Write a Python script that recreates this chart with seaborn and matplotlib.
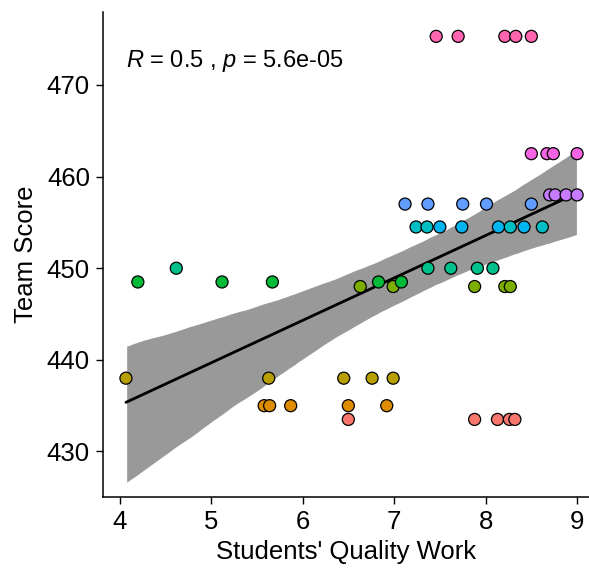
import numpy as np
import pandas as pd
import matplotlib
matplotlib.use("Agg")
import matplotlib.pyplot as plt
import seaborn as sns

# Data (one list of quality-work scores per team)
team_names = ["Team 1", "Team 2", "Team 3", "Team 4", "Team 5", "Team 6",
              "Team 7", "Team 8", "Team 9", "Team 10", "Team 11", "Team 12"]
team_scores = [433.5, 435.0, 438.0, 448.0, 448.5, 450.0,
               454.5, 454.5, 457.0, 458.0, 462.5, 475.3]
quality_work = [
    [6.50, 7.88, 8.13, 8.26, 8.32],
    [5.58, 5.64, 5.87, 6.50, 6.92],
    [4.07, 5.63, 6.45, 6.76, 6.99],
    [6.63, 6.99, 7.88, 8.21, 8.27],
    [4.20, 5.12, 5.67, 6.83, 7.08],
    [4.62, 7.37, 7.62, 7.91, 8.08],
    [7.24, 7.36, 8.27, 8.62],
    [7.50, 7.74, 8.14, 8.42],
    [7.12, 7.37, 7.75, 8.01, 8.50],
    [8.70, 8.76, 8.88, 9.00],
    [8.50, 8.67, 8.74, 9.00],
    [7.46, 7.70, 8.21, 8.33, 8.50],
]
team_colors = ["#F8766D", "#DE8C00", "#B79F00", "#7CAE00", "#00BA38", "#00C08B",
               "#00BFC4", "#00B4F0", "#619CFF", "#C77CFF", "#F564E3", "#FF64B0"]

rows = []
for name, score, qw in zip(team_names, team_scores, quality_work):
    for q in qw:
        rows.append({"Team": name, "Team Score": score, "Students' Quality Work": q})
df = pd.DataFrame(rows)

sns.set_theme(style="ticks")
plt.rcParams["font.family"] = ["Liberation Sans", "DejaVu Sans"]
plt.rcParams["mathtext.fontset"] = "custom"
plt.rcParams["mathtext.rm"] = "Liberation Sans"
plt.rcParams["mathtext.it"] = "Liberation Sans:italic"

fig = plt.figure(figsize=(5.89, 5.71), dpi=100)
ax = fig.add_axes([0.175, 0.13, 0.825, 0.849])

# regression line + confidence band
sns.regplot(data=df, x="Students' Quality Work", y="Team Score", scatter=False,
            ax=ax, color="black", n_boot=2000, seed=3,
            line_kws={"linewidth": 2.0})
band = ax.collections[0]
band.set_facecolor("#999999")
band.set_alpha(1)

sns.scatterplot(data=df, x="Students' Quality Work", y="Team Score", hue="Team",
                palette=team_colors, s=75, edgecolor="black", linewidth=0.9,
                legend=False, ax=ax, zorder=3)

ax.text(4.07, 472.0, r"$\it{R}$ = 0.5 , $\it{p}$ = 5.6e-05", fontsize=17,
        ha="left", va="baseline", color="black")

ax.set_xlim(3.82, 9.13)
ax.set_ylim(425.06, 477.96)
ax.set_xticks([4, 5, 6, 7, 8, 9])
ax.set_yticks([430, 440, 450, 460, 470])
ax.set_xlabel("Students' Quality Work", fontsize=18.5, color="black", labelpad=4)
ax.set_ylabel("Team Score", fontsize=18.5, color="black", labelpad=6)
ax.tick_params(labelsize=18.5, length=5, width=1, color="black", labelcolor="black", pad=4.5)
sns.despine(ax=ax)
for s in ["left", "bottom"]:
    ax.spines[s].set_linewidth(1.1)
    ax.spines[s].set_color("black")

fig.savefig("out.png", dpi=100)
